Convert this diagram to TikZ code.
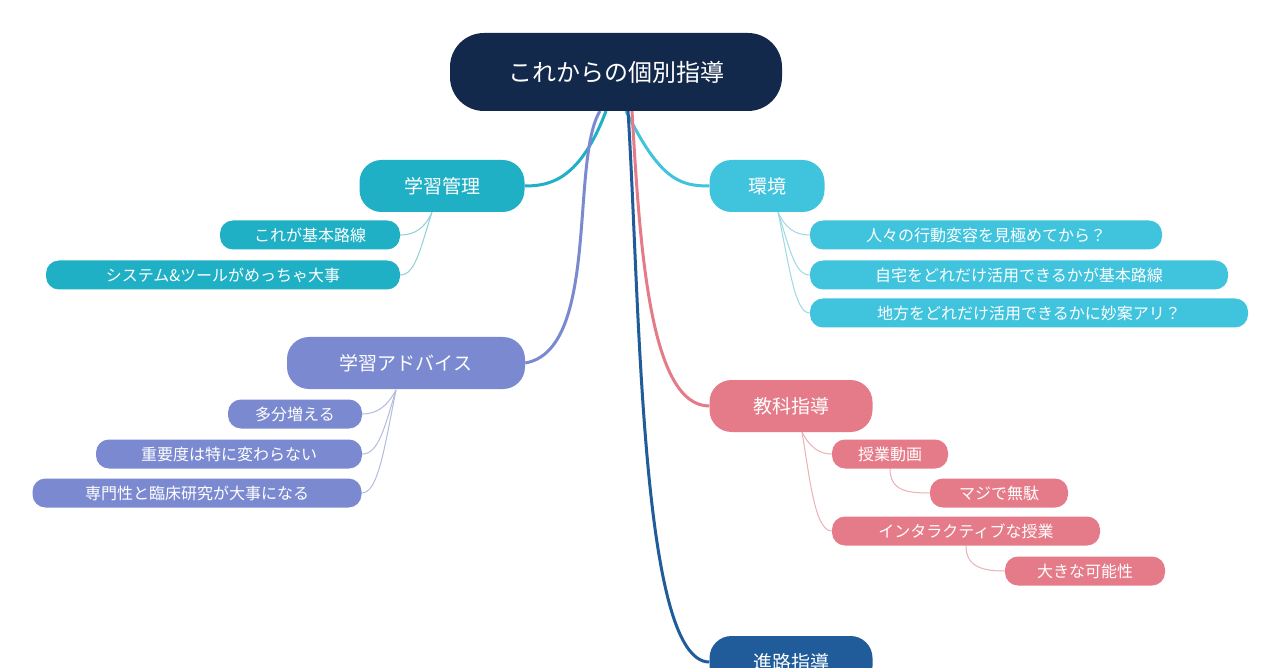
\documentclass[tikz,border=0pt]{standalone}
\usepackage{fontspec}
\setmainfont{Noto Sans CJK JP}
\pgfdeclarelayer{bg}
\pgfsetlayers{bg,main}
\begin{document}
\begin{tikzpicture}[x=1pt,y=-1pt,
  box/.style={rounded corners=#1, text=white, inner sep=0pt, align=center},
  root/.style={box=34pt, fill=cRoot, minimum width=332pt, minimum height=78pt, font=\fontsize{24}{28}\selectfont},
  main/.style={box=22pt, minimum height=52pt, font=\fontsize{19}{22}\selectfont},
  leaf/.style={box=13pt, minimum height=29pt, font=\fontsize{16}{19}\selectfont},
  br/.style={line width=3pt, draw=#1},
  tw/.style={line width=1pt, draw=#1}]
\definecolor{cRoot}{HTML}{13294B}
\definecolor{cA}{HTML}{1FB0C5}
\definecolor{cB}{HTML}{40C4DE}
\definecolor{cC}{HTML}{7B8AD0}
\definecolor{cD}{HTML}{E57B88}
\definecolor{cE}{HTML}{1F5C99}
\definecolor{cAl}{HTML}{8FCFD8}
\definecolor{cBl}{HTML}{9ED9E4}
\definecolor{cCl}{HTML}{B3BBE0}
\definecolor{cDl}{HTML}{ECB0B6}
\useasboundingbox (0,0) rectangle (1280,668);
\begin{pgfonlayer}{bg}
\fill[white] (0,0) rectangle (1280,668);
\end{pgfonlayer}
\coordinate (r1) at (606,111);
\coordinate (r2) at (626,111);
\coordinate (r3) at (600,111);
\coordinate (r4) at (632,111);
\coordinate (r5) at (628,111);
\node[root] (root) at (616,72) {これからの個別指導};
\node[main, fill=cA, minimum width=165pt] (a) at (442,186) {学習管理};
\node[main, fill=cB, minimum width=115pt] (b) at (767,186) {環境};
\node[main, fill=cC, minimum width=238pt] (c) at (406,363) {学習アドバイス};
\node[main, fill=cD, minimum width=163pt] (d) at (791,406) {教科指導};
\node[main, fill=cE, minimum width=163pt] (e) at (791,662) {進路指導};
\node[leaf, fill=cA, minimum width=180pt] (a1) at (310,235) {これが基本路線};
\node[leaf, fill=cA, minimum width=354pt] (a2) at (223,275) {システム\&ツールがめっちゃ大事};
\node[leaf, fill=cB, minimum width=352pt] (b1) at (986,235) {人々の行動変容を見極めてから？};
\node[leaf, fill=cB, minimum width=418pt] (b2) at (1019,275) {自宅をどれだけ活用できるかが基本路線};
\node[leaf, fill=cB, minimum width=438pt] (b3) at (1029,313) {地方をどれだけ活用できるかに妙案アリ？};
\node[leaf, fill=cC, minimum width=134pt] (c1) at (295,414) {多分増える};
\node[leaf, fill=cC, minimum width=266pt] (c2) at (229,454) {重要度は特に変わらない};
\node[leaf, fill=cC, minimum width=329pt] (c3) at (197,493) {専門性と臨床研究が大事になる};
\node[leaf, fill=cD, minimum width=116pt] (d1) at (890,454) {授業動画};
\node[leaf, fill=cD, minimum width=138pt] (d2) at (999,493) {マジで無駄};
\node[leaf, fill=cD, minimum width=268pt] (d3) at (966,531) {インタラクティブな授業};
\node[leaf, fill=cD, minimum width=160pt] (d4) at (1085,571) {大きな可能性};
\coordinate (ab) at (432,212);
\coordinate (bb) at (778,212);
\coordinate (cb) at (396,390);
\coordinate (db) at (802,432);
\coordinate (d1b) at (890,468);
\coordinate (d3b) at (966,546);
\begin{pgfonlayer}{bg}
\draw[br=cA] (r1) .. controls (580,180) and (550,186) .. (a.east);
\draw[br=cB] (r2) .. controls (660,180) and (680,186) .. (b.west);
\draw[br=cC] (r3) .. controls (570,160) and (600,350) .. (c.east);
\draw[br=cD] (r4) .. controls (640,250) and (650,406) .. (d.west);
\draw[br=cE] (r5) .. controls (640,300) and (640,662) .. (e.west);
\draw[tw=cAl] (ab) .. controls (425,228) and (415,235) .. (a1.east);
\draw[tw=cAl] (ab) .. controls (420,250) and (415,275) .. (a2.east);
\draw[tw=cBl] (bb) .. controls (785,228) and (795,235) .. (b1.west);
\draw[tw=cBl] (bb) .. controls (790,250) and (795,275) .. (b2.west);
\draw[tw=cBl] (bb) .. controls (790,270) and (795,313) .. (b3.west);
\draw[tw=cCl] (cb) .. controls (388,405) and (378,414) .. (c1.east);
\draw[tw=cCl] (cb) .. controls (384,430) and (378,454) .. (c2.east);
\draw[tw=cCl] (cb) .. controls (384,450) and (378,493) .. (c3.east);
\draw[tw=cDl] (db) .. controls (810,448) and (820,454) .. (d1.west);
\draw[tw=cDl] (db) .. controls (810,480) and (815,531) .. (d3.west);
\draw[tw=cDl] (d1b) .. controls (890,490) and (905,493) .. (d2.west);
\draw[tw=cDl] (d3b) .. controls (966,568) and (985,571) .. (d4.west);
\end{pgfonlayer}
\end{tikzpicture}
\end{document}
